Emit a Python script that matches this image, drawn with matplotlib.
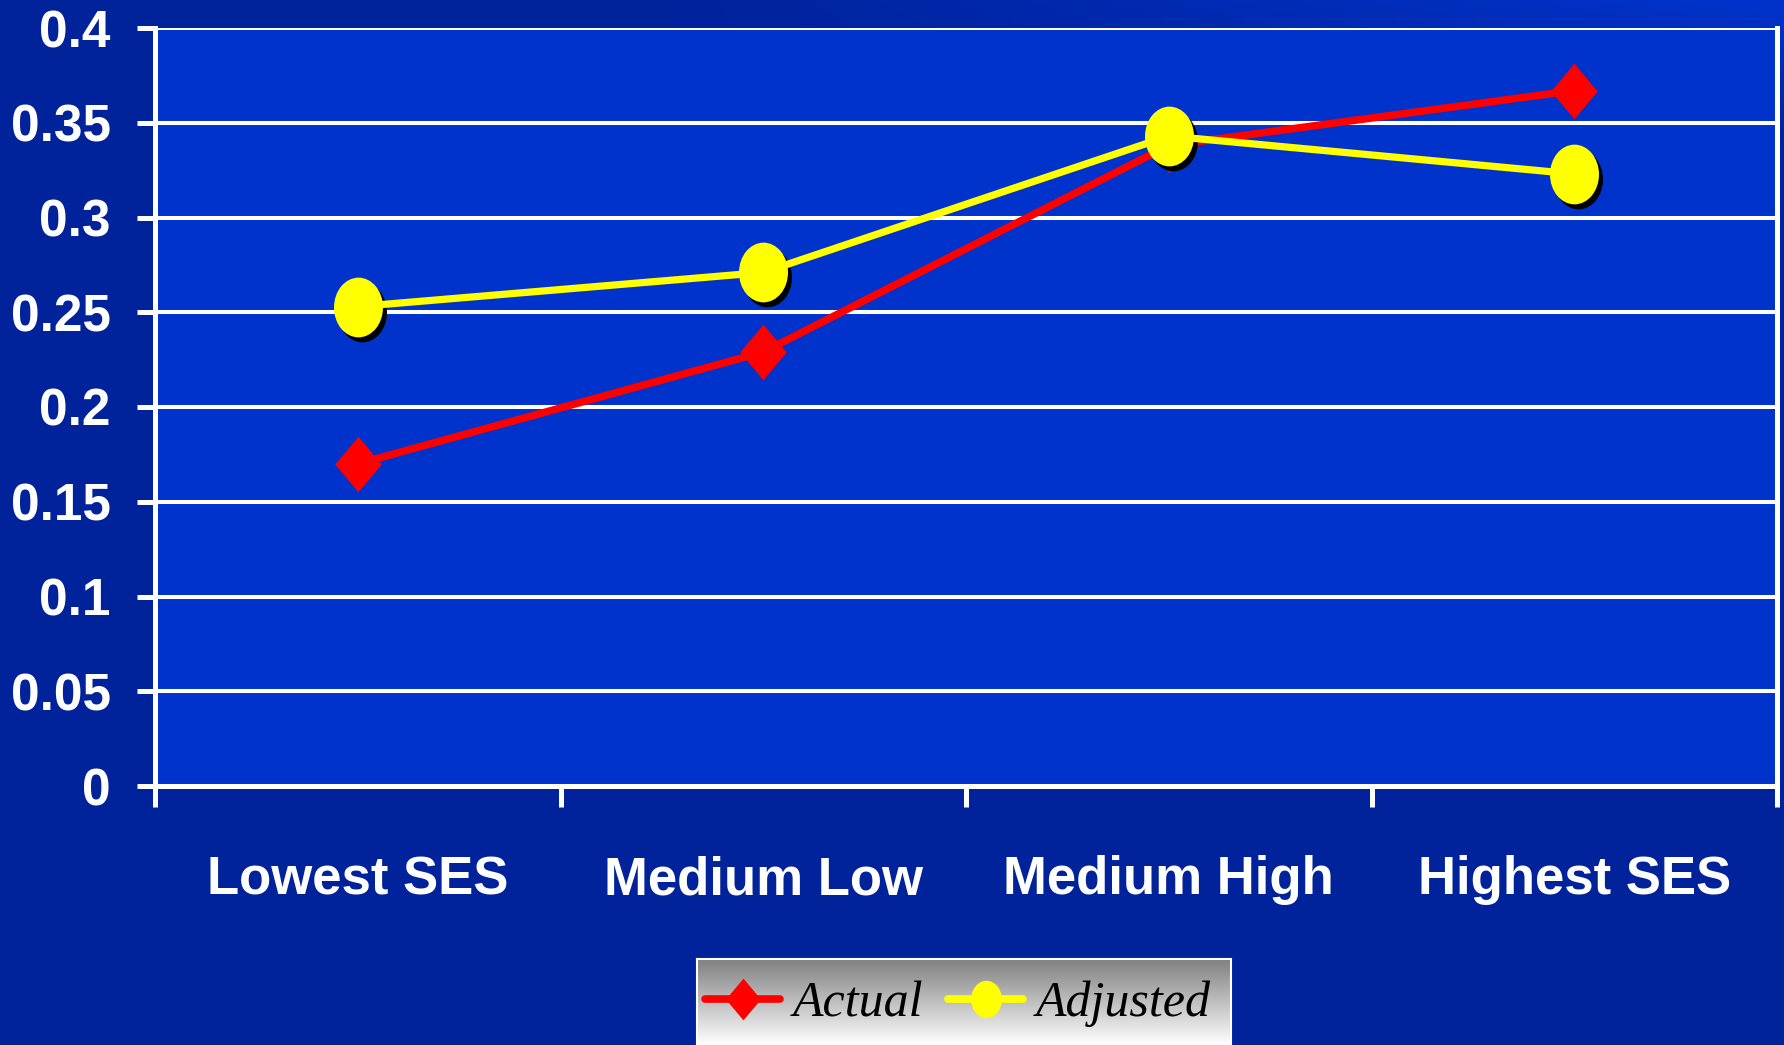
import numpy as np
import matplotlib
matplotlib.use("Agg")
import matplotlib.pyplot as plt
from matplotlib.path import Path
from matplotlib.transforms import Affine2D, ScaledTranslation
from matplotlib.lines import Line2D

categories = ["Lowest SES", "Medium Low", "Medium High", "Highest SES"]
actual = [0.170, 0.229, 0.338, 0.367]
adjusted = [0.253, 0.271, 0.343, 0.323]
y_ticks = [0, 0.05, 0.1, 0.15, 0.2, 0.25, 0.3, 0.35, 0.4]
y_tick_labels = ["0", "0.05", "0.1", "0.15", "0.2", "0.25", "0.3", "0.35", "0.4"]
series_names = ["Actual", "Adjusted"]

PLOT_BLUE = "#0033cc"
DARK_BLUE = "#00229a"
SANS = ["Liberation Sans", "DejaVu Sans"]
SERIF = ["Liberation Serif", "DejaVu Serif"]

# slightly narrow markers: diamond and ellipse
squeeze = 0.84
diamond = Path([(0, 1), (squeeze, 0), (0, -1), (-squeeze, 0), (0, 1)],
               [Path.MOVETO, Path.LINETO, Path.LINETO, Path.LINETO, Path.CLOSEPOLY])
ellipse = Affine2D().scale(0.82, 1.0).transform_path(Path.unit_circle())

fig = plt.figure(figsize=(17.84, 10.45), dpi=100)

# background with a soft lighter band towards the top right
bg = fig.add_axes([0, 0, 1, 1], zorder=-10)
xx, yy = np.meshgrid(np.linspace(0, 1, 400), np.linspace(1, 0, 240))
t = np.clip((xx - 0.35) / 0.65, 0, 1) * np.clip((yy - 0.86) / 0.14, 0, 1)
dark = np.array(matplotlib.colors.to_rgb(DARK_BLUE))
light = np.array(matplotlib.colors.to_rgb(PLOT_BLUE))
img = dark[None, None, :] * (1 - t[..., None]) + light[None, None, :] * t[..., None]
bg.imshow(img, aspect="auto", extent=[0, 1, 0, 1])
bg.axis("off")

ax = fig.add_axes([155 / 1784, 1 - 786 / 1045, 1622 / 1784, 758 / 1045])
ax.set_facecolor(PLOT_BLUE)
x = np.arange(len(categories))

ax.set_xlim(-0.5, len(categories) - 0.5)
ax.set_ylim(0, 0.4)
ax.set_yticks(y_ticks)
ax.set_yticklabels(y_tick_labels)
ax.set_xticks(np.arange(len(categories) + 1) - 0.5)
ax.set_xticklabels([])
ax.set_xticks(x, minor=True)
ax.set_xticklabels(categories, minor=True)

ax.grid(axis="y", color="white", linewidth=2.9, zorder=1)
ax.set_axisbelow(True)
for side in ["left", "right", "bottom", "top"]:
    ax.spines[side].set_color("white")
    ax.spines[side].set_linewidth(3.6)
ax.spines["top"].set_visible(False)

ax.tick_params(axis="y", which="major", direction="out", length=13, width=3.6,
               color="white", pad=19, labelcolor="white", labelsize=37)
ax.tick_params(axis="x", which="major", direction="out", length=15, width=3.6,
               color="white")
ax.tick_params(axis="x", which="minor", length=0, pad=50, labelcolor="white",
               labelsize=38)
for lab in ax.get_yticklabels() + ax.get_xticklabels(minor=True):
    lab.set_fontfamily(SANS)
    lab.set_fontweight("bold")

# actual series
ax.plot(x, actual, color="#ff0000", linewidth=5.4, marker=diamond,
        markersize=40, markeredgewidth=0, zorder=3, clip_on=False)

# drop shadow under the yellow circles
shadow = ax.transData + ScaledTranslation(4 / 100, -5 / 100, fig.dpi_scale_trans)
ax.plot(x, adjusted, linestyle="none", marker=ellipse, markersize=43,
        color="black", markeredgewidth=0, transform=shadow, zorder=4, clip_on=False)

# adjusted series
ax.plot(x, adjusted, color="#ffff00", linewidth=5.2, marker=ellipse,
        markersize=43, markeredgewidth=0, zorder=5, clip_on=False)

# legend box with grey-to-white gradient
lax = fig.add_axes([697 / 1784, 0, 534 / 1784, 86 / 1045], zorder=5)
grad = np.linspace(0.5, 1.0, 100)[:, None]
lax.imshow(np.dstack([grad, grad, grad]), aspect="auto", extent=[0, 1, 0, 1])
lax.set_xticks([])
lax.set_yticks([])
for side in lax.spines.values():
    side.set_color("white")
    side.set_linewidth(1.5)

handles = [
    Line2D([], [], color="#ff0000", linewidth=5.5, marker=diamond, markersize=30,
           markeredgewidth=0, solid_capstyle="round"),
    Line2D([], [], color="#ffff00", linewidth=5.5, marker=ellipse, markersize=27,
           markeredgewidth=0, solid_capstyle="round"),
]
leg = fig.legend(handles, series_names, loc="center",
                 bbox_to_anchor=(958 / 1784, 1 - 1004 / 1045), ncol=2,
                 frameon=False, handlelength=1.5, handletextpad=0.25,
                 columnspacing=0.5, borderpad=0,
                 prop={"family": SERIF, "style": "italic", "size": 36})
leg.set_zorder(10)

fig.savefig("out.png", dpi=100)
